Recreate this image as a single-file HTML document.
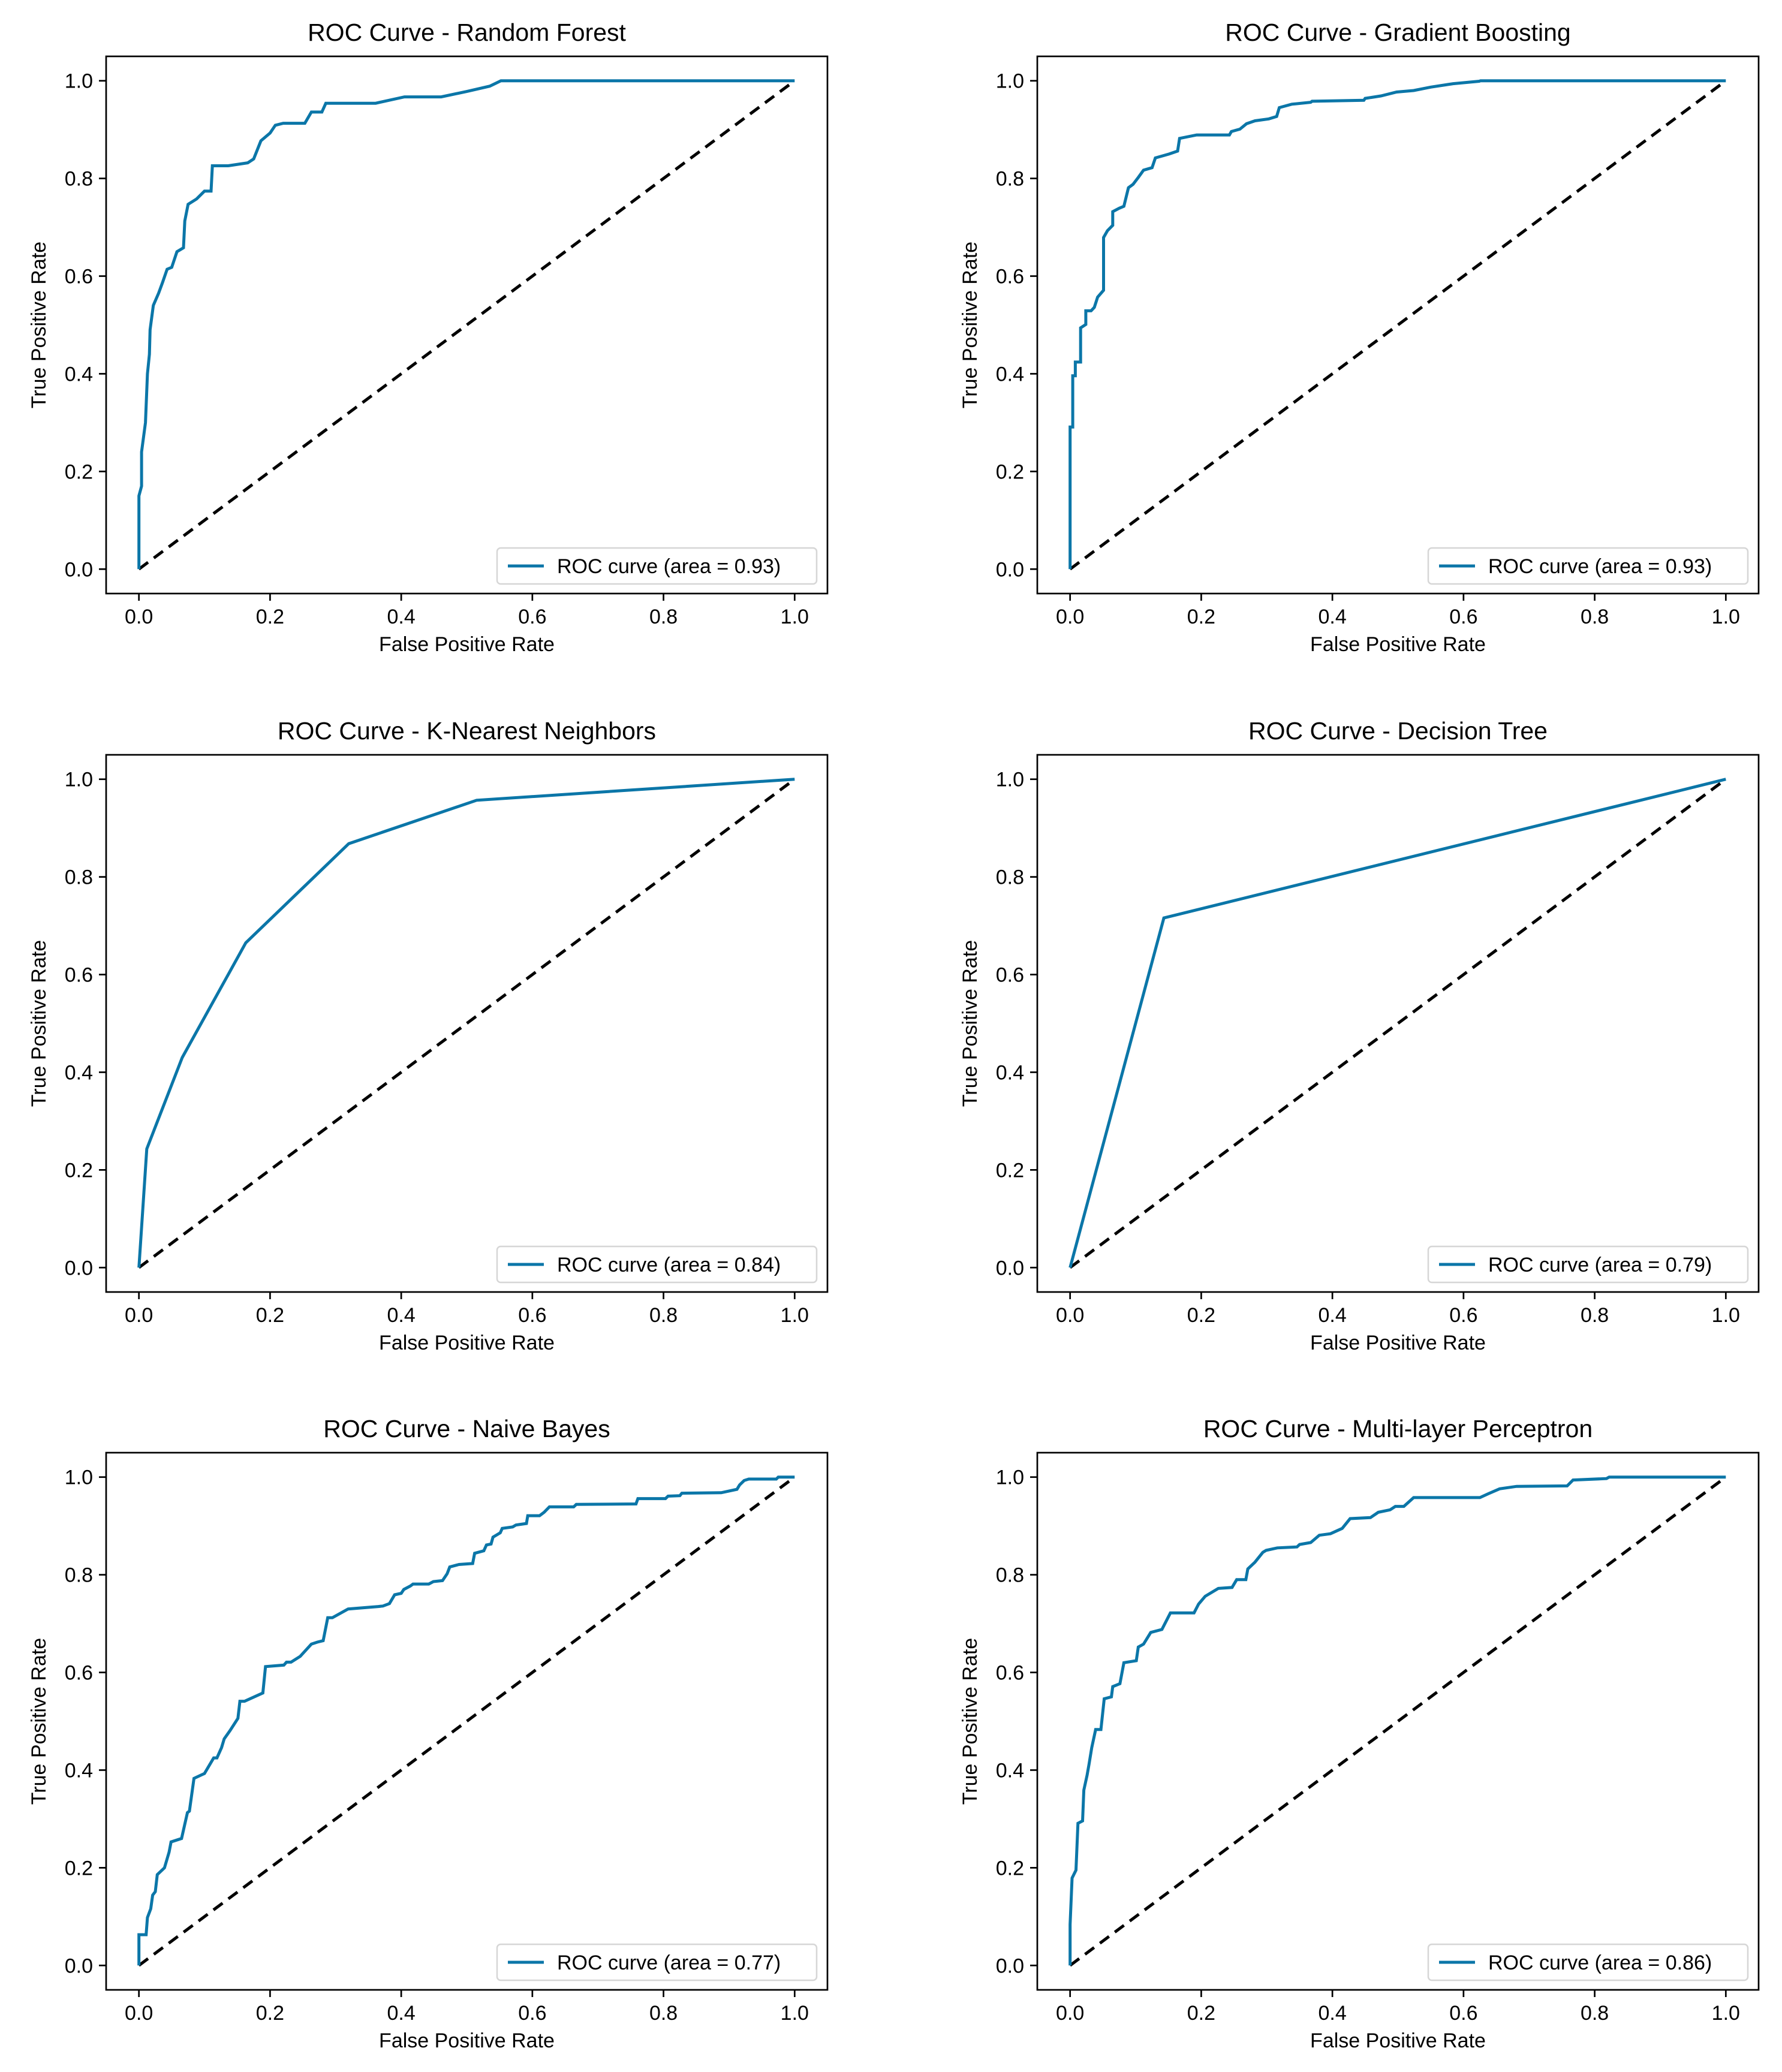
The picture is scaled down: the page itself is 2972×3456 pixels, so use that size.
<!DOCTYPE html>
<html><head><meta charset="utf-8">
<style>
html,body{margin:0;padding:0;background:#fff;}
svg{display:block;font-family:"Liberation Sans","DejaVu Sans",sans-serif;}
</style></head>
<body>
<svg id="fig" width="2972" height="3456" viewBox="0 0 2972 3456" xmlns="http://www.w3.org/2000/svg"></svg>
<script>
// ---- data ----
const titles = ["ROC Curve - Random Forest","ROC Curve - Gradient Boosting","ROC Curve - K-Nearest Neighbors","ROC Curve - Decision Tree","ROC Curve - Naive Bayes","ROC Curve - Multi-layer Perceptron"];
const aucs = ["0.93","0.93","0.84","0.79","0.77","0.86"];
const tickLabels = ["0.0","0.2","0.4","0.6","0.8","1.0"];
const tickValues = [0,0.2,0.4,0.6,0.8,1.0];

const rfFpr = [0,0,0.004,0.004,0.01,0.013,0.016,0.017,0.022,0.03,0.036,0.043,0.05,0.058,0.068,0.07,0.075,0.088,0.1,0.11,0.112,0.136,0.166,0.175,0.186,0.2,0.208,0.22,0.253,0.263,0.279,0.285,0.361,0.405,0.461,0.5,0.535,0.552,1];
const rfTpr = [0,0.15,0.17,0.24,0.30,0.40,0.44,0.49,0.54,0.565,0.587,0.614,0.618,0.65,0.658,0.713,0.747,0.758,0.774,0.774,0.826,0.826,0.832,0.84,0.877,0.893,0.909,0.913,0.913,0.936,0.936,0.954,0.954,0.967,0.967,0.978,0.989,1,1];

const gbFpr = [0,0,0.004,0.004,0.008,0.008,0.016,0.016,0.024,0.024,0.032,0.037,0.042,0.051,0.051,0.057,0.065,0.065,0.075,0.082,0.089,0.096,0.104,0.112,0.125,0.13,0.143,0.151,0.164,0.167,0.193,0.243,0.246,0.259,0.269,0.282,0.303,0.315,0.319,0.338,0.367,0.369,0.448,0.45,0.474,0.498,0.524,0.55,0.584,0.624,0.626,1];
const gbTpr = [0,0.291,0.291,0.396,0.396,0.424,0.424,0.494,0.501,0.529,0.529,0.536,0.557,0.571,0.679,0.693,0.704,0.732,0.739,0.743,0.781,0.788,0.802,0.817,0.822,0.842,0.847,0.85,0.856,0.882,0.889,0.889,0.896,0.901,0.912,0.918,0.922,0.927,0.945,0.952,0.956,0.958,0.96,0.964,0.969,0.977,0.98,0.987,0.994,0.999,1,1];

const knnFpr = [0,0.012,0.066,0.163,0.32,0.515,1];
const knnTpr = [0,0.243,0.43,0.665,0.868,0.957,1];

const dtFpr = [0,0.143,1];
const dtTpr = [0,0.716,1];

const nbFpr = [0,0,0.011,0.013,0.018,0.021,0.025,0.028,0.039,0.046,0.049,0.065,0.074,0.077,0.084,0.095,0.1,0.114,0.119,0.126,0.13,0.139,0.151,0.154,0.161,0.189,0.193,0.221,0.225,0.232,0.246,0.263,0.272,0.281,0.288,0.295,0.319,0.365,0.372,0.382,0.39,0.4,0.404,0.414,0.418,0.442,0.449,0.463,0.47,0.474,0.488,0.509,0.512,0.526,0.53,0.537,0.54,0.551,0.554,0.57,0.575,0.591,0.593,0.611,0.618,0.626,0.663,0.667,0.758,0.761,0.803,0.807,0.825,0.828,0.888,0.912,0.916,0.923,0.93,0.972,0.975,1];
const nbTpr = [0,0.063,0.063,0.098,0.116,0.144,0.151,0.186,0.2,0.232,0.253,0.26,0.313,0.316,0.383,0.39,0.393,0.425,0.425,0.446,0.464,0.481,0.506,0.541,0.541,0.558,0.612,0.615,0.621,0.621,0.633,0.658,0.662,0.665,0.712,0.712,0.73,0.735,0.736,0.741,0.759,0.762,0.77,0.777,0.781,0.781,0.786,0.788,0.802,0.816,0.821,0.823,0.844,0.849,0.861,0.863,0.877,0.886,0.895,0.898,0.902,0.905,0.921,0.921,0.928,0.939,0.939,0.944,0.945,0.956,0.956,0.961,0.962,0.967,0.968,0.975,0.984,0.993,0.996,0.996,1,1];

const mlpFpr = [0,0,0.003,0.009,0.012,0.019,0.021,0.026,0.029,0.033,0.039,0.047,0.052,0.063,0.065,0.076,0.082,0.101,0.104,0.112,0.123,0.14,0.153,0.189,0.196,0.206,0.226,0.247,0.254,0.268,0.271,0.282,0.294,0.299,0.316,0.346,0.35,0.367,0.38,0.397,0.415,0.427,0.458,0.47,0.488,0.496,0.509,0.524,0.625,0.638,0.655,0.681,0.758,0.767,0.818,0.822,1];
const mlpTpr = [0,0.084,0.179,0.195,0.291,0.296,0.359,0.39,0.413,0.446,0.483,0.483,0.546,0.55,0.571,0.577,0.62,0.624,0.652,0.658,0.682,0.688,0.722,0.722,0.74,0.756,0.772,0.774,0.79,0.79,0.812,0.826,0.846,0.85,0.855,0.857,0.862,0.866,0.881,0.884,0.895,0.915,0.917,0.928,0.933,0.94,0.94,0.958,0.958,0.966,0.976,0.981,0.982,0.994,0.997,1,1];

const allFpr = [rfFpr,gbFpr,knnFpr,dtFpr,nbFpr,mlpFpr];
const allTpr = [rfTpr,gbTpr,knnTpr,dtTpr,nbTpr,mlpTpr];
const slugs = ["random-forest","gradient-boosting","knn","decision-tree","naive-bayes","mlp"];

// ---- layout ----
const NS = "http://www.w3.org/2000/svg";
const svg = document.getElementById('fig');
const colLeft = [177,1730];
const rowTop = [94,1259,2423];
const AW = 1203, AH = 896;
const BLUE = "#0b76a8";

function mk(tag, attrs, parent){
  const e = document.createElementNS(NS, tag);
  for (const k in attrs) e.setAttribute(k, attrs[k]);
  parent.appendChild(e);
  return e;
}

for (let i=0;i<6;i++){
  const L = colLeft[i%2], T = rowTop[Math.floor(i/2)];
  const sx = v => L + (v + 0.05) / 1.1 * AW;
  const sy = v => T + AH - (v + 0.05) / 1.1 * AH;
  const g = mk('g', {}, svg);
  
  

  const t = mk('text', {x: L + AW/2, y: T - 26, 'text-anchor':'middle', 'font-size':41, fill:'#000'}, g);
  t.textContent = titles[i];
  
  

  const d = mk('line', {x1:sx(0), y1:sy(0), x2:sx(1), y2:sy(1), stroke:'#000', 'stroke-width':5, 'stroke-dasharray':'19 12'}, g);
  
  

  const pts = allFpr[i].map((f,k) => sx(f).toFixed(1) + ',' + sy(allTpr[i][k]).toFixed(1)).join(' ');
  const c = mk('polyline', {points: pts, fill:'none', stroke: BLUE, 'stroke-width':5, 'stroke-linejoin':'miter'}, g);
  
  

  const f = mk('rect', {x:L, y:T, width:AW, height:AH, fill:'none', stroke:'#000', 'stroke-width':2.7}, g);
  
  

  tickValues.forEach((v,k) => {
    mk('line', {x1:sx(v), y1:T+AH, x2:sx(v), y2:T+AH+12, stroke:'#000', 'stroke-width':2.7}, g);
    const xt = mk('text', {x:sx(v), y:T+AH+50, 'text-anchor':'middle', 'font-size':34, fill:'#000'}, g);
    xt.textContent = tickLabels[k];
    
    
    mk('line', {x1:L-12, y1:sy(v), x2:L, y2:sy(v), stroke:'#000', 'stroke-width':2.7}, g);
    const yt = mk('text', {x:L-22, y:sy(v)+12, 'text-anchor':'end', 'font-size':34, fill:'#000'}, g);
    yt.textContent = tickLabels[k];
    
    
  });

  const xl = mk('text', {x:L+AW/2, y:T+AH+96, 'text-anchor':'middle', 'font-size':34, fill:'#000'}, g);
  xl.textContent = 'False Positive Rate';
  
  
  const yx = L-110, yy = T+AH/2;
  const yl = mk('text', {x:yx, y:yy, 'text-anchor':'middle', 'font-size':34, fill:'#000', transform:'rotate(-90 '+yx+' '+yy+')', 'dominant-baseline':'middle'}, g);
  yl.textContent = 'True Positive Rate';
  
  

  const bw = 533, bh = 60, bx = L+AW-18-bw, by = T+AH-16-bh;
  const lg = mk('g', {}, g);
  
  
  mk('rect', {x:bx, y:by, width:bw, height:bh, rx:6, fill:'#fff', 'fill-opacity':0.8, stroke:'#d6d6d6', 'stroke-width':2.5}, lg);
  mk('line', {x1:bx+18, y1:by+bh/2, x2:bx+78, y2:by+bh/2, stroke:BLUE, 'stroke-width':5}, lg);
  const lt = mk('text', {x:bx+100, y:by+bh/2+12, 'font-size':34, fill:'#000'}, lg);
  lt.textContent = 'ROC curve (area = ' + aucs[i] + ')';
  
  
}
</script>
</body></html>
